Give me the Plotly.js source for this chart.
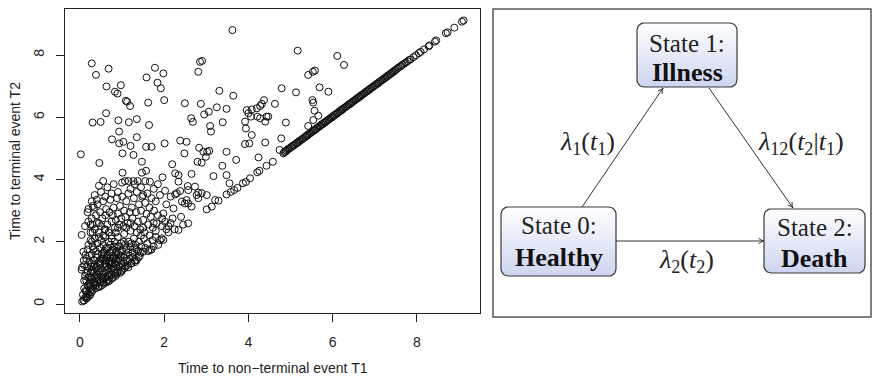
<!DOCTYPE html>
<html>
<head>
<meta charset="utf-8">
<script src="https://cdn.plot.ly/plotly-3.0.1.min.js"></script>
<style>html,body{margin:0;padding:0;background:#fff;}#chart{width:874px;height:378px;}</style>
</head>
<body>
<div id="chart"></div>
<script>
// ---------------- DATA ----------------
const xTicks = [0, 2, 4, 6, 8];
const yTicks = [0, 2, 4, 6, 8];
const xTitle = 'Time to non\u2212terminal event T1';
const yTitle = 'Time to terminal event T2';

// sparse points, upper left
const upperLeftT1 = [0.28,0.38,0.68,0.63,0.97,0.83,0.89,1.09,1.12,1.19,
  0.30,0.49,0.62,0.91,1.16,1.35,0.76,0.93,0.93,1.03,
  1.20,1.35,1.01,1.27,0.02,0.46,1.47,1.57,1.47,1.01,
  1.07,1.15,1.27,1.37,1.57,1.70,1.58,1.78,1.98,1.84,
  1.92,2.00,1.62,1.64,2.01,2.19,2.26,2.34,1.96,2.65,
  2.38,2.53,2.48,2.49,2.64,2.68,2.81,2.85,2.90,2.87,
  2.95,1.66];
const upperLeftT2 = [7.73,7.36,7.56,6.99,7.03,6.82,6.76,6.53,6.50,6.36,
  5.83,5.85,6.13,5.90,5.84,5.94,5.29,5.54,5.16,5.21,
  5.08,5.36,4.84,4.79,4.81,4.53,4.57,4.28,4.22,4.22,
  3.95,3.95,3.95,3.95,5.05,5.05,7.28,7.59,7.41,7.11,
  6.93,6.55,6.47,5.75,5.16,4.49,4.20,4.14,4.07,4.18,
  5.25,5.21,4.84,6.45,5.97,5.85,7.46,7.78,7.81,6.43,
  6.09,3.93];

// sparse points, middle
const upperMidT1 = [3.62,3.06,3.25,3.09,3.11,2.83,2.93,3.02,3.07,2.79,
  2.89,2.99,3.17,3.31,3.39,3.48,3.64,3.48,3.38,3.48,
  3.55,3.71,3.92,3.94,4.06,4.00,4.08,3.96,3.92,4.02,
  4.08,4.24,4.21,4.26,4.20,4.28,4.37,4.32,4.21,4.28,
  4.43,4.47,4.40,4.40,4.43,4.58,4.63,4.89,4.78,4.74,
  4.79,5.13,5.17];
const upperMidT2 = [8.80,6.18,6.32,5.72,5.54,5.02,4.89,4.89,4.92,4.57,
  4.54,4.73,4.11,6.85,5.84,6.27,6.69,4.89,4.44,4.14,
  3.88,4.63,5.86,5.64,6.02,6.13,6.25,6.23,5.14,5.16,
  5.43,4.71,4.23,4.28,6.29,6.36,6.55,6.43,6.02,5.97,
  6.02,6.02,5.86,5.19,4.44,4.57,6.43,5.83,5.32,4.95,
  6.93,6.80,8.14];

// sparse points, upper right
const upperRightT1 = [6.11,6.27,5.42,5.53,5.58,5.69,5.90,5.52,5.54,5.57,5.66,5.54,5.42];
const upperRightT2 = [7.97,7.68,7.36,7.46,7.50,6.96,6.82,6.55,6.47,6.21,6.05,5.91,5.72];

// sparse points near the diagonal (x 3 to 4)
const nearDiagT1 = [3.01,3.13,3.21,3.29,3.48,3.58,3.66,3.74,3.87,3.94,4.04];
const nearDiagT2 = [3.04,3.13,3.34,3.32,3.52,3.60,3.66,3.73,3.88,3.92,4.04];

// points between x 2 and 3, T2 3 to 4
const midT1 = [2.77,2.81,2.57,2.73,3.01,2.89,2.34,2.56,2.81,2.53,2.02,2.26];
const midT2 = [3.50,3.58,3.66,3.77,3.50,3.56,3.93,3.79,3.40,3.34,3.64,3.52];

// dense cluster near the origin
const tipT1 = [0.05,0.08,0.10,0.12,0.15,0.07,0.18,0.20,0.13,0.22,0.25,0.10,0.28,0.30,0.18,0.16,0.24];
const tipT2 = [0.08,0.12,0.11,0.20,0.25,0.30,0.22,0.35,0.42,0.30,0.45,0.50,0.38,0.55,0.60,0.18,0.28];

const lowA_T1 = [0.05,0.04,0.10,0.15,0.20,0.22,0.25,0.28,0.30,0.32,0.35,0.38,0.40,0.42,0.45,0.48,0.50,0.35,0.27,0.18,0.12,0.43,0.37,0.33,0.26];
const lowA_T2 = [1.18,1.10,1.25,0.75,0.85,0.65,1.00,0.80,1.10,0.70,0.90,0.60,1.20,0.85,1.00,0.70,1.15,1.25,1.20,1.05,0.90,0.55,0.50,1.00,0.60];

const lowB_T1 = [0.52,0.55,0.58,0.60,0.62,0.65,0.68,0.70,0.72,0.75,0.78,0.80,0.82,0.85,0.88,0.90,0.95,0.98,0.55,0.63,0.92,0.57,0.67,0.77,1.00];
const lowB_T2 = [0.60,0.80,1.00,1.30,0.70,0.90,1.15,0.75,1.40,0.95,0.85,1.20,1.00,0.90,1.35,1.05,1.00,1.30,1.40,1.50,1.45,0.65,0.72,1.30,1.10];

const coreT1 = [0.15,0.20,0.25,0.30,0.33,0.36,0.40,0.44,0.47,0.50,
  0.53,0.56,0.59,0.61,0.64,0.66,0.69,0.71,0.74,0.76,
  0.79,0.81,0.84,0.86,0.89,0.91,0.94,0.96,0.99,1.03,
  1.06,1.09,1.13,1.17,1.21,1.26,1.30,1.34,1.39,1.44,
  0.22,0.27,0.32,0.37,0.41,0.46,0.51,0.56,0.61,0.66,
  0.71,0.76,0.81,0.86,0.93,1.00,1.07,1.14,1.22,1.29,
  0.10,0.14,0.09,0.17,0.24,0.29,0.34,0.39,0.43,0.49,
  0.54,0.58,0.63,0.68,0.73,0.78,0.83,0.87,0.97,1.04];
const coreT2 = [0.40,0.55,0.70,0.45,0.85,0.65,0.95,0.75,0.55,0.88,
  1.05,0.70,1.20,0.85,1.05,0.78,1.30,0.95,1.15,0.82,
  1.45,1.10,0.95,1.25,1.00,1.60,1.20,1.40,1.05,1.35,
  1.15,1.60,1.25,1.45,1.30,1.50,1.40,1.75,1.50,1.65,
  1.55,1.30,1.75,1.15,1.60,1.25,1.45,1.65,1.40,1.80,
  1.50,1.70,1.85,1.45,1.85,1.70,1.90,1.65,1.95,1.80,
  0.75,1.00,1.40,1.20,0.85,1.05,1.40,0.80,1.10,1.30,
  0.95,1.55,1.20,0.90,1.25,1.55,1.30,1.70,1.55,2.00];

const midA_T1 = [0.08,0.13,0.04,0.15,0.20,0.22,0.25,0.28,0.30,0.33,0.35,0.38,0.40,0.42,0.45,0.48,0.50,0.52,0.55,0.58,0.60,0.62,0.65,0.68,0.70,0.72,0.75,0.78,0.80,0.82,0.85,0.88,0.90,0.95,0.98,0.28,0.18,0.45,0.55,0.70];
const midA_T2 = [1.68,1.57,2.22,1.45,1.90,1.35,2.05,1.60,1.85,1.40,2.10,1.70,1.50,1.95,1.35,1.80,2.05,1.60,1.90,1.70,2.15,1.80,1.55,2.00,1.65,1.90,2.10,1.75,1.50,2.00,1.60,1.85,2.15,1.70,1.95,2.00,1.75,2.15,1.45,1.35];

const midB_T1 = [1.02,1.05,1.08,1.10,1.12,1.15,1.18,1.20,1.23,1.25,1.28,1.31,1.32,1.35,1.38,1.40,1.42,1.45,1.50,1.52,1.55,1.60,1.62,1.66,1.70,1.72,1.75,1.80,1.86,1.90,1.94,1.98,1.15];
const midB_T2 = [1.25,1.50,1.20,1.75,1.40,2.00,1.55,1.85,1.31,1.65,2.10,1.35,1.90,1.41,1.70,2.00,1.55,1.85,1.68,2.10,1.80,1.95,1.70,1.73,1.75,2.05,1.85,2.15,1.90,2.05,2.11,2.06,1.18];

const bandT1 = [0.30,0.45,0.60,0.75,0.90,1.05,1.20,1.35,1.50,1.65,1.80,1.95,2.15,0.25,0.55,0.85,1.10,1.45,1.75,2.05];
const bandT2 = [2.30,2.60,2.40,2.20,2.45,2.25,2.60,2.30,2.45,2.20,2.35,2.50,2.60,2.55,2.20,2.30,2.45,2.20,2.60,2.40];

const highA_T1 = [0.12,0.18,0.20,0.25,0.28,0.30,0.33,0.35,0.38,0.40,0.42,0.45,0.48,0.50,0.53,0.55,0.58,0.60,0.62,0.65,0.68,0.70,0.72,0.75,0.78,0.80,0.83,0.85,0.88,0.90,0.93,0.95,0.98,1.00,1.03,1.05,1.08,1.10,1.13,1.15,1.18];
const highA_T2 = [2.50,2.95,2.65,2.30,2.75,2.55,3.10,2.40,2.85,2.60,3.20,2.30,2.95,2.50,2.75,3.30,2.40,2.85,3.05,2.55,2.30,2.95,3.35,2.65,2.85,3.10,2.45,2.70,3.40,2.90,2.55,3.15,2.75,3.45,2.50,3.00,2.80,3.30,2.60,3.55,2.95];

const highB_T1 = [1.20,1.23,1.25,1.28,1.30,1.33,1.35,1.38,1.40,1.43,1.45,1.48,1.50,1.53,1.55,1.58,1.60,1.62,1.65,1.68,1.70,1.73,1.76,1.80,1.82,1.85,1.90,1.95,1.98,2.02,2.05,2.10,2.15,2.20,2.22,2.25,2.30,2.34,2.38,2.42,2.45,2.49,2.57,2.57,2.65,2.10,2.40];
const highB_T2 = [2.35,3.10,2.75,3.40,2.50,2.95,3.60,2.65,3.20,2.40,3.00,3.45,2.70,2.30,3.25,2.90,3.55,2.55,3.10,2.80,3.40,2.45,3.00,3.30,2.59,2.85,3.50,2.75,2.91,2.64,3.20,2.50,3.45,2.75,3.07,2.40,3.56,2.38,3.63,3.29,2.55,3.23,2.59,3.23,3.13,2.30,2.80];

const topBandT1 = [0.28,0.35,0.40,0.50,0.60,0.65,0.75,0.80,0.90,1.00,1.20,1.30,1.45,1.55,1.50,1.75,1.85,0.55,0.45,0.30,0.20];
const topBandT2 = [3.30,3.50,3.35,3.60,3.45,3.75,3.55,3.85,3.60,3.90,3.70,3.85,3.75,3.95,3.50,3.70,3.85,3.95,3.80,3.15,3.05];

// dense band on the diagonal T2 = T1
const diagT1 = [4.83,4.85,4.88,4.9,4.93,4.95,4.98,5.01,5.03,5.06,
  5.08,5.11,5.14,5.16,5.19,5.21,5.24,5.27,5.29,5.32,
  5.35,5.37,5.4,5.42,5.45,5.48,5.5,5.53,5.56,5.58,
  5.61,5.63,5.66,5.69,5.71,5.74,5.77,5.79,5.82,5.84,
  5.87,5.9,5.92,5.95,5.98,6.0,6.03,6.05,6.08,6.11,
  6.13,6.16,6.19,6.21,6.24,6.26,6.29,6.32,6.34,6.37,
  6.4,6.42,6.45,6.47,6.5,6.53,6.55,6.58,6.61,6.63,
  6.66,6.68,6.71,6.74,6.76,6.79,6.82,6.84,6.87,6.89,
  6.92,6.95,6.97,7.0,7.03,7.05,7.08,7.1,7.13,7.16,
  7.18,7.21,7.24,7.26,7.29,7.31,7.34,7.37,7.39,7.42,
  7.45,7.47,7.5,7.53,7.56,7.6,7.63,7.66,7.7,7.74,
  7.78,7.82,7.85,7.92,7.98,8.05,8.09,8.17,8.28,8.3,
  8.43,8.46,8.69,8.73,8.89,9.07,9.11];
const diagT2 = [4.84,4.88,4.89,4.93,4.95,4.99,5.00,5.04,5.05,5.09,
  5.10,5.13,5.16,5.19,5.20,5.24,5.26,5.29,5.31,5.34,
  5.37,5.40,5.41,5.45,5.47,5.50,5.52,5.56,5.57,5.61,
  5.62,5.66,5.68,5.71,5.73,5.77,5.78,5.82,5.83,5.87,
  5.89,5.92,5.94,5.98,5.99,6.03,6.04,6.08,6.10,6.13,
  6.15,6.19,6.20,6.24,6.25,6.29,6.31,6.34,6.36,6.40,
  6.41,6.45,6.46,6.50,6.52,6.55,6.57,6.61,6.62,6.66,
  6.67,6.71,6.73,6.76,6.78,6.82,6.83,6.87,6.88,6.92,
  6.94,6.97,6.99,7.03,7.04,7.08,7.09,7.13,7.15,7.18,
  7.20,7.24,7.25,7.29,7.30,7.34,7.36,7.39,7.41,7.45,
  7.46,7.50,7.52,7.56,7.59,7.63,7.65,7.69,7.72,7.76,
  7.80,7.84,7.86,7.93,7.99,8.06,8.10,8.18,8.28,8.31,
  8.43,8.47,8.70,8.73,8.88,9.07,9.11];

// diagram text
const stateHeads = ['State 0:', 'State 1:', 'State 2:'];
const stateNames = ['Healthy', 'Illness', 'Death'];
const rateLabels = [
  '<i>λ</i><sub>1</sub>(<i>t</i><sub>1</sub>)',
  '<i>λ</i><sub>12</sub>(<i>t</i><sub>2</sub>|<i>t</i><sub>1</sub>)',
  '<i>λ</i><sub>2</sub>(<i>t</i><sub>2</sub>)'
];

// ---------------- BUILD ----------------
const allT1 = [].concat(upperLeftT1, upperMidT1, upperRightT1, nearDiagT1, midT1,
  tipT1, lowA_T1, lowB_T1, coreT1, midA_T1, midB_T1, bandT1, highA_T1, highB_T1, topBandT1, diagT1);
const allT2 = [].concat(upperLeftT2, upperMidT2, upperRightT2, nearDiagT2, midT2,
  tipT2, lowA_T2, lowB_T2, coreT2, midA_T2, midB_T2, bandT2, highA_T2, highB_T2, topBandT2, diagT2);

const W = 874, H = 378;
const sans = 'Liberation Sans, Arial, sans-serif';
const serif = 'Liberation Serif, Times New Roman, serif';

const traces = [{
  type: 'scatter', mode: 'markers', x: allT1, y: allT2, xaxis: 'x', yaxis: 'y',
  marker: {symbol: 'circle-open', size: 7, color: '#111', line: {width: 1, color: '#111'}},
  hoverinfo: 'skip', cliponaxis: true
}];

// diagram geometry (pixel layout on the overlay axis)
const boxes = [
  {x0: 501, y0: 207, x1: 616, y1: 276},   // State 0
  {x0: 637, y0: 23,  x1: 737, y1: 87},    // State 1
  {x0: 764, y0: 209, x1: 865, y1: 273}    // State 2
];
function roundRect(b, r) {
  const xs = [], ys = [];
  const cs = [[b.x1 - r, b.y0 + r, -90], [b.x1 - r, b.y1 - r, 0], [b.x0 + r, b.y1 - r, 90], [b.x0 + r, b.y0 + r, 180]];
  cs.forEach(c => {
    for (let a = 0; a <= 90; a += 10) {
      const t = (c[2] + a) * Math.PI / 180;
      xs.push(c[0] + r * Math.cos(t)); ys.push(c[1] + r * Math.sin(t));
    }
  });
  xs.push(xs[0]); ys.push(ys[0]);
  return {xs, ys};
}
boxes.forEach(b => {
  const p = roundRect(b, 7);
  traces.push({
    type: 'scatter', mode: 'lines', x: p.xs, y: p.ys, xaxis: 'x2', yaxis: 'y2',
    fill: 'toself',
    fillgradient: {type: 'vertical', start: b.y1, stop: b.y0,
      colorscale: [[0, '#cdd5ef'], [1, '#ffffff']]},
    line: {color: '#3a3a3a', width: 1.2}, hoverinfo: 'skip'
  });
});

const shapes = [{type: 'rect', xref: 'x2', yref: 'y2', x0: 493, y0: 9, x1: 871, y1: 317,
  line: {color: '#555', width: 1.5}, fillcolor: 'rgba(0,0,0,0)', layer: 'below'}];
// arrows: [tail x, tail y, head x, head y]
const arrows = [[582, 207, 663, 88], [709, 88, 793, 208], [616, 241, 764, 241]];
arrows.forEach(a => {
  shapes.push({type: 'line', xref: 'x2', yref: 'y2', x0: a[0], y0: a[1], x1: a[2], y1: a[3],
    line: {color: '#333', width: 1}});
  const ang = Math.atan2(a[3] - a[1], a[2] - a[0]);
  const L = 6, spread = 0.45;
  const p1 = [a[2] - L * Math.cos(ang - spread), a[3] - L * Math.sin(ang - spread)];
  const p2 = [a[2] - L * Math.cos(ang + spread), a[3] - L * Math.sin(ang + spread)];
  shapes.push({type: 'path', xref: 'x2', yref: 'y2',
    path: `M${p1[0]},${p1[1]} Q${a[2] - 2 * Math.cos(ang)},${a[3] - 2 * Math.sin(ang)} ${a[2]},${a[3]} Q${a[2] - 2 * Math.cos(ang)},${a[3] - 2 * Math.sin(ang)} ${p2[0]},${p2[1]}`,
    line: {color: '#333', width: 1}, fillcolor: 'rgba(0,0,0,0)'});
});

const annotations = [
  {xref: 'paper', yref: 'paper', x: 272.5 / W, y: 1 - 368 / H, text: xTitle, showarrow: false,
   xanchor: 'center', yanchor: 'middle', font: {family: sans, size: 14, color: '#222'}},
  {xref: 'paper', yref: 'paper', x: 15 / W, y: 1 - 161 / H, text: yTitle, showarrow: false, textangle: -90,
   xanchor: 'center', yanchor: 'middle', font: {family: sans, size: 14, color: '#222'}}
];
const stateCenters = [[558.5, 225, 257], [687, 43, 72], [814.5, 227, 258]];
stateCenters.forEach((c, i) => {
  annotations.push({xref: 'x2', yref: 'y2', x: c[0], y: c[1], text: stateHeads[i], showarrow: false,
    xanchor: 'center', yanchor: 'middle', font: {family: serif, size: 25, color: '#222'}});
  annotations.push({xref: 'x2', yref: 'y2', x: c[0], y: c[2], text: '<b>' + stateNames[i] + '</b>', showarrow: false,
    xanchor: 'center', yanchor: 'middle', font: {family: serif, size: 26, color: '#111'}});
});
const labelPos = [[587.5, 143], [801, 143], [686, 261]];
labelPos.forEach((p, i) => {
  annotations.push({xref: 'x2', yref: 'y2', x: p[0], y: p[1], text: rateLabels[i], showarrow: false,
    xanchor: 'center', yanchor: 'middle', font: {family: serif, size: 26, color: '#222'}});
});

const tickFont = {family: sans, size: 14, color: '#222'};
const layout = {
  width: W, height: H, margin: {l: 0, r: 0, t: 0, b: 0},
  paper_bgcolor: '#fff', plot_bgcolor: 'rgba(0,0,0,0)', showlegend: false,
  xaxis: {domain: [65 / W, 480 / W], range: [-0.356, 9.50], tickvals: xTicks, ticktext: xTicks.map(String),
    ticks: 'outside', ticklen: 8, tickwidth: 1, tickcolor: '#222', showline: true, mirror: true,
    linecolor: '#222', linewidth: 1, showgrid: false, zeroline: false, tickfont: tickFont,
    ticklabelstandoff: 8, anchor: 'y', fixedrange: true},
  yaxis: {domain: [1 - 313 / H, 1 - 9 / H], range: [-0.289, 9.478], tickvals: yTicks, ticktext: yTicks.map(String),
    tickangle: -90, ticks: 'outside', ticklen: 8, tickwidth: 1, tickcolor: '#222', showline: true, mirror: true,
    linecolor: '#222', linewidth: 1, showgrid: false, zeroline: false, tickfont: tickFont,
    ticklabelstandoff: 6, anchor: 'x', fixedrange: true},
  xaxis2: {domain: [0, 1], range: [0, W], visible: false, anchor: 'y2', fixedrange: true},
  yaxis2: {domain: [0, 1], range: [H, 0], visible: false, anchor: 'x2', fixedrange: true},
  shapes: shapes,
  annotations: annotations
};

Plotly.newPlot('chart', traces, layout, {staticPlot: true, displayModeBar: false});
</script>
</body>
</html>
